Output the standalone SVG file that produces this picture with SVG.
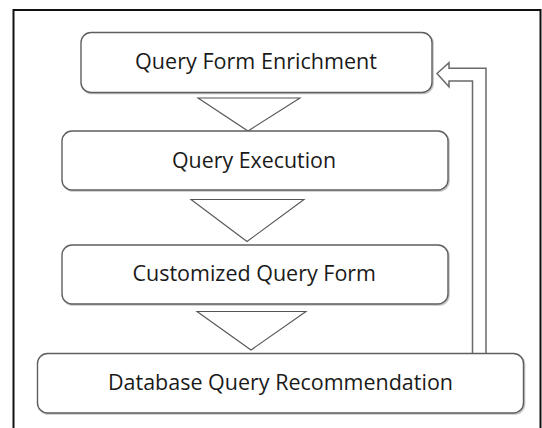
<svg xmlns="http://www.w3.org/2000/svg" width="542" height="428" viewBox="0 0 542 428">
  <defs>
    <style>
      .box { fill: #ffffff; stroke: #5e5e5e; stroke-width: 1.4; }
      .shadow { fill: none; stroke: #c4c4c4; stroke-width: 1.6; }
      .tri { fill: #ffffff; stroke: #555555; stroke-width: 1.1; stroke-linejoin: miter; }
      .lbl { font-family: "Open Sans", "Noto Sans", "DejaVu Sans", sans-serif; font-size: 21px; fill: #1a1a1a; }
      .fb { fill: #ffffff; stroke: #6a6a6a; stroke-width: 1.5; stroke-linejoin: miter; }
    </style>
  </defs>
  <rect x="0" y="0" width="542" height="428" fill="#ffffff"/>
  <!-- frame -->
  <path d="M13.5,428 V10 H540.5 V428" fill="none" stroke="#111111" stroke-width="2"/>

  <g id="connectors">
    <polygon class="tri" points="198,98 300,98 248,131"/>
    <polygon class="tri" points="191,199.5 304,199.5 247,241.5"/>
    <polygon class="tri" points="197,311.5 306,311.5 251,350"/>
    <path class="fb" d="M472.5,354 V81 H449 V86.7 L437,73.5 L449,62.7 V68.3 H486 V354"/>
  </g>

  <g id="node-enrichment">
    <rect class="shadow" x="82" y="33.5" width="351" height="60" rx="10"/>
    <rect class="box" x="81" y="32.5" width="351" height="60" rx="10"/>
    <text class="lbl" x="135" y="69" textLength="242" lengthAdjust="spacingAndGlyphs">Query Form Enrichment</text>
  </g>
  <g id="node-execution">
    <rect class="shadow" x="63" y="132" width="386" height="59" rx="10"/>
    <rect class="box" x="62" y="131" width="386" height="59" rx="10"/>
    <text class="lbl" x="172" y="168" textLength="164" lengthAdjust="spacingAndGlyphs">Query Execution</text>
  </g>
  <g id="node-customized">
    <rect class="shadow" x="63" y="246" width="386" height="59" rx="10"/>
    <rect class="box" x="62" y="245" width="386" height="59" rx="10"/>
    <text class="lbl" x="132.5" y="281" textLength="243.5" lengthAdjust="spacingAndGlyphs">Customized Query Form</text>
  </g>
  <g id="node-recommendation">
    <rect class="shadow" x="38.5" y="354.5" width="486" height="59.5" rx="10"/>
    <rect class="box" x="37.5" y="353.5" width="486" height="59.5" rx="10"/>
    <text class="lbl" x="108" y="390" textLength="345" lengthAdjust="spacingAndGlyphs">Database Query Recommendation</text>
  </g>
</svg>
